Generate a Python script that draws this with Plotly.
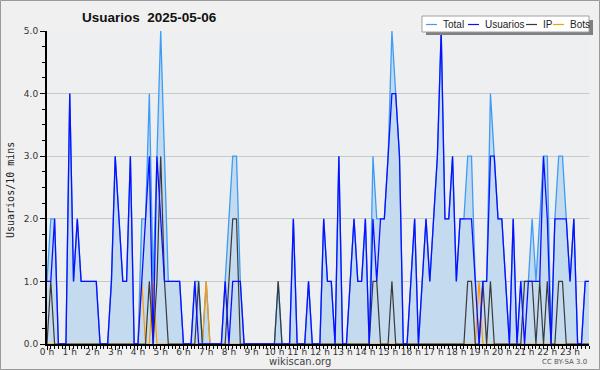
import plotly.graph_objects as go

# 10-minute slots, 144 per day (index 0 = 00:00)
hour_labels = [f"{h} h" for h in range(24)]

total = [1,2,2,0,0,0,4,1,2,1,1,1,1,1,0,0,0,1,3,2,1,1,3,0,
         0,2,2,4,1,3,5,3,1,1,1,1,0,0,0,1,1,0,1,0,0,0,0,1,
         2,3,3,1,0,0,0,0,0,0,0,0,0,1,0,0,0,2,0,0,0,1,0,0,
         0,2,1,1,0,3,0,0,1,2,1,1,2,0,3,2,2,2,3,5,4,3,0,0,
         1,2,0,1,2,1,2,3,5,2,2,3,1,2,2,3,3,1,1,1,1,4,3,2,
         2,1,0,2,0,1,1,1,2,1,2,3,3,0,2,3,3,2,1,2,0,0,1,1]
usuarios = [1,1,2,0,0,0,4,1,2,1,1,1,1,1,0,0,0,1,3,2,1,1,3,0,
            0,1,2,3,0,3,2,1,1,1,1,1,0,0,0,1,0,0,0,0,0,0,0,1,
            0,1,1,1,0,0,0,0,0,0,0,0,0,0,0,0,0,2,0,0,0,1,0,0,
            0,2,1,1,0,3,0,0,1,2,1,1,2,0,2,1,2,2,3,4,4,3,0,0,
            1,2,0,1,2,1,2,3,5,2,2,3,1,2,2,2,2,1,0,1,1,3,3,2,
            2,1,0,2,0,1,0,1,1,1,1,3,2,0,2,2,2,2,1,2,0,0,1,1]
ip = [0,1,0,0,0,0,0,0,0,0,0,0,0,0,0,0,0,0,0,0,0,0,0,0,
      0,0,0,1,0,1,3,1,0,0,0,0,0,0,0,0,1,0,0,0,0,0,0,0,
      1,2,2,0,0,0,0,0,0,0,0,0,0,1,0,0,0,0,0,0,0,0,0,0,
      0,0,0,0,0,0,0,0,0,0,0,0,0,0,1,1,0,0,0,1,0,0,0,0,
      0,0,0,0,0,0,0,0,0,0,0,0,0,0,0,1,1,0,0,1,0,1,0,0,
      0,0,0,0,0,0,1,1,1,0,1,0,1,0,0,1,1,0,0,0,0,0,0,0]
bots = [0,0,0,0,0,0,0,0,0,0,0,0,0,0,0,0,0,0,0,0,0,0,0,0,
        0,1,0,0,1,0,0,0,0,0,0,0,0,0,0,0,0,0,1,0,0,0,0,0,
        0,0,0,0,0,0,0,0,0,0,0,0,0,0,0,0,0,0,0,0,0,0,0,0,
        0,0,0,0,0,0,0,0,0,0,0,0,0,0,0,0,0,0,0,0,0,0,0,0,
        0,0,0,0,0,0,0,0,0,0,0,0,0,0,0,0,0,0,1,0,0,0,0,0,
        0,0,0,0,0,0,0,0,0,0,0,0,0,0,0,0,0,0,0,0,0,0,0,0]

x = list(range(len(total)))

C_TOTAL = "#3d9cf5"
C_FILL = "#c4dbef"
C_USER = "#0a10ff"
C_IP = "#3a3a3a"
C_BOTS = "#ff9a00"

fig = go.Figure()
fig.add_trace(go.Scatter(x=x, y=total, mode="lines", fill="tozeroy",
                         fillcolor=C_FILL, line=dict(color=C_TOTAL, width=1.3)))
fig.add_trace(go.Scatter(x=x, y=bots, mode="lines", line=dict(color=C_BOTS, width=1.2)))
fig.add_trace(go.Scatter(x=x, y=ip, mode="lines", line=dict(color=C_IP, width=1.2)))
fig.add_trace(go.Scatter(x=x, y=usuarios, mode="lines", line=dict(color=C_USER, width=1.3)))

L, R, T, B = 47, 11, 31, 26
W, H = 600, 370
pw, ph = W - L - R, H - T - B

def px(xp):
    return (xp - L) / pw

def py(yp):
    return (H - B - yp) / ph

shapes = []
annotations = []
# outer border
shapes.append(dict(type="rect", xref="paper", yref="paper",
                   x0=px(0.5), x1=px(599.5), y0=py(369.5), y1=py(0.5),
                   line=dict(color="#9a9a9a", width=1), layer="below"))
# legend shadow + box
shapes.append(dict(type="rect", xref="paper", yref="paper",
                   x0=px(426), x1=px(593), y0=py(35), y1=py(20),
                   fillcolor="#808080", line=dict(width=0)))
shapes.append(dict(type="rect", xref="paper", yref="paper",
                   x0=px(422), x1=px(589), y0=py(32), y1=py(16),
                   fillcolor="white", line=dict(color="#a0a0a0", width=1)))
legend_items = [("Total", C_TOTAL, 426), ("Usuarios", C_USER, 468),
                ("IP", C_IP, 526), ("Bots", C_BOTS, 553)]
for name, col, x0 in legend_items:
    shapes.append(dict(type="line", xref="paper", yref="paper",
                       x0=px(x0), x1=px(x0 + 11), y0=py(24.5), y1=py(24.5),
                       line=dict(color=col, width=1.2)))
    annotations.append(dict(text=name, xref="paper", yref="paper",
                            x=px(x0 + 15), y=py(24.5), xanchor="left", yanchor="middle",
                            showarrow=False,
                            font=dict(size=10, color="#222", family="Liberation Sans")))

annotations.append(dict(text="<b>Usuarios&nbsp;&nbsp;2025-05-06</b>", xref="paper", yref="paper",
                        x=px(80), y=py(17), xanchor="left", yanchor="middle",
                        showarrow=False,
                        font=dict(size=13.5, color="#111", family="Liberation Sans")))
annotations.append(dict(text="wikiscan.org", xref="paper", yref="paper",
                        x=px(300), y=py(361.5), xanchor="center", yanchor="middle",
                        showarrow=False, font=dict(size=10, color="#444")))
annotations.append(dict(text="CC BY-SA 3.0", xref="paper", yref="paper",
                        x=px(589), y=py(362), xanchor="right", yanchor="middle",
                        showarrow=False, font=dict(size=7, color="#555")))
annotations.append(dict(text="Usuarios/10 mins", xref="paper", yref="paper",
                        x=px(10), y=py(190), xanchor="center", yanchor="middle",
                        textangle=-90, showarrow=False,
                        font=dict(size=10, color="#222", family="DejaVu Sans Mono")))

fig.update_layout(
    width=W, height=H,
    margin=dict(l=L, r=R, t=T, b=B, pad=0, autoexpand=False),
    paper_bgcolor="#f0f0f0", plot_bgcolor="#eeeff1",
    showlegend=False,
    font=dict(family="DejaVu Sans", size=9, color="#333"),
    shapes=shapes, annotations=annotations,
    xaxis=dict(range=[0, 143], tickmode="array", automargin=False,
               tickvals=list(range(0, 144, 6)), ticktext=hour_labels,
               ticks="outside", ticklen=4, tickcolor="#000",
               ticklabelstandoff=-6,
               showline=True, linecolor="#000", linewidth=2,
               showgrid=False, zeroline=False,
               tickfont=dict(size=9, color="#333"),
               minor=dict(tickmode="linear", tick0=0, dtick=1, ticks="outside",
                          ticklen=3, tickcolor="#000")),
    yaxis=dict(range=[0, 5], tickmode="linear", tick0=0, dtick=1, tickformat=".1f",
               automargin=False,
               ticks="outside", ticklen=5, tickcolor="#000",
               showline=True, linecolor="#000", linewidth=2,
               showgrid=True, gridcolor="#c9c9c9", gridwidth=1, zeroline=False,
               tickfont=dict(size=9, color="#333"),
               minor=dict(tickmode="linear", tick0=0, dtick=0.25, ticks="outside",
                          ticklen=3, tickcolor="#000", showgrid=False)),
)

fig.write_html("out.html", config={"displayModeBar": False},
               post_script="document.body.style.margin='0';document.body.style.overflow='hidden';")
